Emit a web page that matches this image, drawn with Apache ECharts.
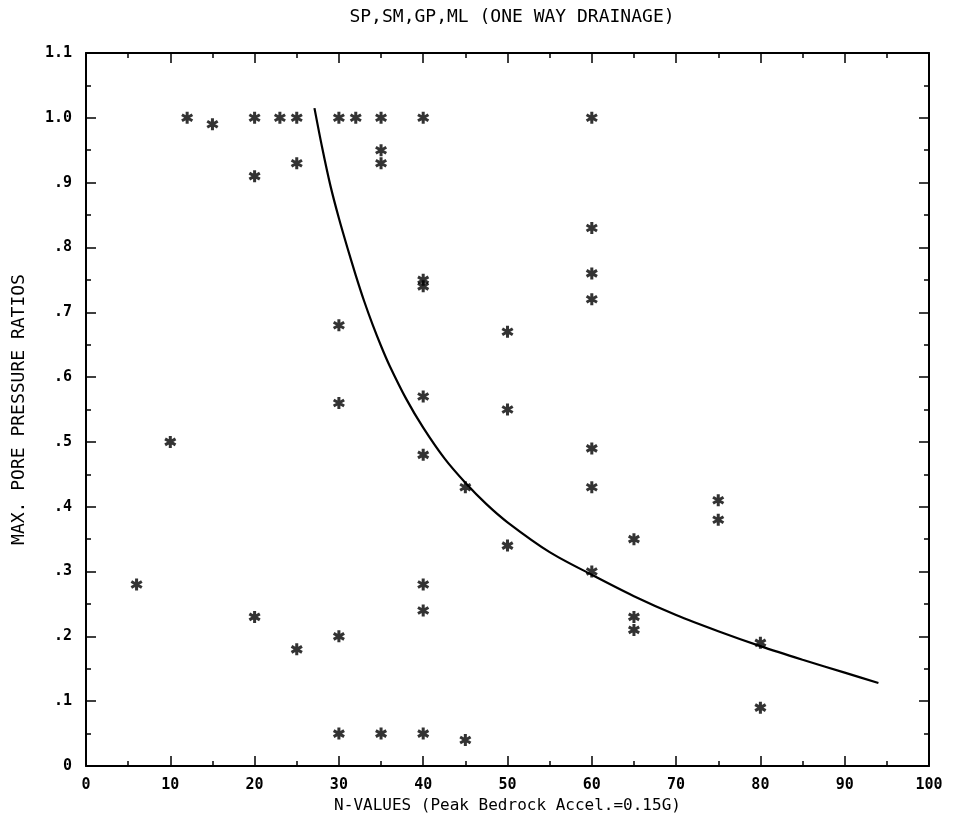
<!DOCTYPE html>
<html>
<head>
<meta charset="utf-8">
<script src="https://cdn.jsdelivr.net/npm/echarts@6/dist/echarts.min.js"></script>
<style>html,body{margin:0;padding:0;background:#fff;}#c{width:954px;height:829px;}</style>
</head>
<body>
<div id="c"></div>
<script>
// ---- data ----
var titleText = 'SP,SM,GP,ML (ONE WAY DRAINAGE)';
var xName = 'N-VALUES (Peak Bedrock Accel.=0.15G)';
var yName = 'MAX. PORE PRESSURE RATIOS';

var pointsX = [12, 15, 20, 23, 25, 30, 32, 35, 40, 60,
               20, 25, 35, 35,
               40, 40, 60, 60, 60, 30, 50, 40, 30, 50, 10, 40, 60, 60, 45, 75, 75, 65, 50, 60,
               6, 40, 40, 65, 65, 20, 30, 80, 25, 80,
               30, 35, 40, 45];
var pointsY = [1.00, 0.99, 1.00, 1.00, 1.00, 1.00, 1.00, 1.00, 1.00, 1.00,
               0.91, 0.93, 0.95, 0.93,
               0.75, 0.74, 0.83, 0.76, 0.72, 0.68, 0.67, 0.57, 0.56, 0.55, 0.50, 0.48, 0.49, 0.43, 0.43, 0.41, 0.38, 0.35, 0.34, 0.30,
               0.28, 0.28, 0.24, 0.23, 0.21, 0.23, 0.20, 0.19, 0.18, 0.09,
               0.05, 0.05, 0.05, 0.04];

var curveX = [27.1, 28, 29, 30, 31, 32, 33, 34, 35, 36, 38, 40, 42.5, 45, 47.5, 50, 55, 60, 65, 70, 75, 80, 85, 90, 94];
var curveY = [1.015, 0.955, 0.895, 0.845, 0.80, 0.757, 0.717, 0.681, 0.648, 0.618, 0.566, 0.522, 0.475, 0.437, 0.404, 0.376, 0.330, 0.295, 0.262, 0.233, 0.208, 0.185, 0.164, 0.144, 0.128];

var xTicks = [0, 10, 20, 30, 40, 50, 60, 70, 80, 90, 100];
var yTickLabels = ['0', '.1', '.2', '.3', '.4', '.5', '.6', '.7', '.8', '.9', '1.0', '1.1'];

// ---- chart ----
var star = 'path://M-1.5,-6L1.5,-6L1.5,6L-1.5,6Z M4.446,-4.299L5.946,-1.701L-4.446,4.299L-5.946,1.701Z M5.946,1.701L4.446,4.299L-5.946,-1.701L-4.446,-4.299Z';
var scatterData = pointsX.map(function (x, i) { return [x, pointsY[i]]; });
var curveData = curveX.map(function (x, i) { return [x, curveY[i]]; });

var FONT = 'DejaVu Sans Mono';
var ink = '#000';

function yFmt(v) { var k = Math.round(v * 10); return yTickLabels[k] !== undefined ? yTickLabels[k] : ''; }

function mkX(pos) {
  return {
    type: 'value', min: xTicks[0], max: xTicks[xTicks.length - 1], interval: 10, position: pos,
    axisLine: { show: true, onZero: false, lineStyle: { color: ink, width: 2 } },
    axisTick: { show: true, inside: true, length: 10, lineStyle: { color: ink, width: 1.5 } },
    minorTick: { show: true, splitNumber: 2, length: 5, lineStyle: { color: ink, width: 1.5 } },
    splitLine: { show: false }, minorSplitLine: { show: false }
  };
}
function mkY(pos) {
  return {
    type: 'value', min: 0, max: 1.1, interval: 0.1, position: pos,
    axisLine: { show: true, onZero: false, lineStyle: { color: ink, width: 2 } },
    axisTick: { show: true, inside: true, length: 10, lineStyle: { color: ink, width: 1.5 } },
    minorTick: { show: true, splitNumber: 2, length: 5, lineStyle: { color: ink, width: 1.5 } },
    splitLine: { show: false }, minorSplitLine: { show: false }
  };
}

var xb = mkX('bottom');
xb.name = xName; xb.nameLocation = 'middle'; xb.nameGap = 29;
xb.nameTextStyle = { fontFamily: FONT, fontSize: 16, color: ink };
xb.axisLabel = { show: true, margin: 12, fontFamily: FONT, fontSize: 15, fontWeight: 'bold', color: ink };
var xt = mkX('top'); xt.axisLabel = { show: false };

var yl = mkY('left');
yl.name = yName; yl.nameLocation = 'middle'; yl.nameGap = 58;
yl.nameTextStyle = { fontFamily: FONT, fontSize: 18, color: ink };
yl.axisLabel = { show: true, margin: 14, fontFamily: FONT, fontSize: 15, fontWeight: 'bold', color: ink, formatter: yFmt };
var yr = mkY('right'); yr.axisLabel = { show: false };

var option = {
  backgroundColor: '#fff',
  animation: false,
  title: {
    text: titleText, left: 507, top: 3, textAlign: 'center',
    textStyle: { fontFamily: FONT, fontSize: 18, fontWeight: 'normal', color: ink }
  },
  grid: { left: 86, right: 25, top: 53, bottom: 63 },
  xAxis: [xb, xt],
  yAxis: [yl, yr],
  series: [
    {
      type: 'line', xAxisIndex: 0, yAxisIndex: 0, data: curveData, smooth: 0.3, showSymbol: false, symbol: 'none',
      lineStyle: { color: ink, width: 2.2 }, z: 2
    },
    {
      type: 'scatter', xAxisIndex: 0, yAxisIndex: 0, data: scatterData, symbol: star, symbolSize: [12, 12],
      itemStyle: { color: ink }, z: 3
    }
  ]
};

var chart = echarts.init(document.getElementById('c'), null, { renderer: 'canvas' });
chart.setOption(option);
</script>
</body>
</html>
